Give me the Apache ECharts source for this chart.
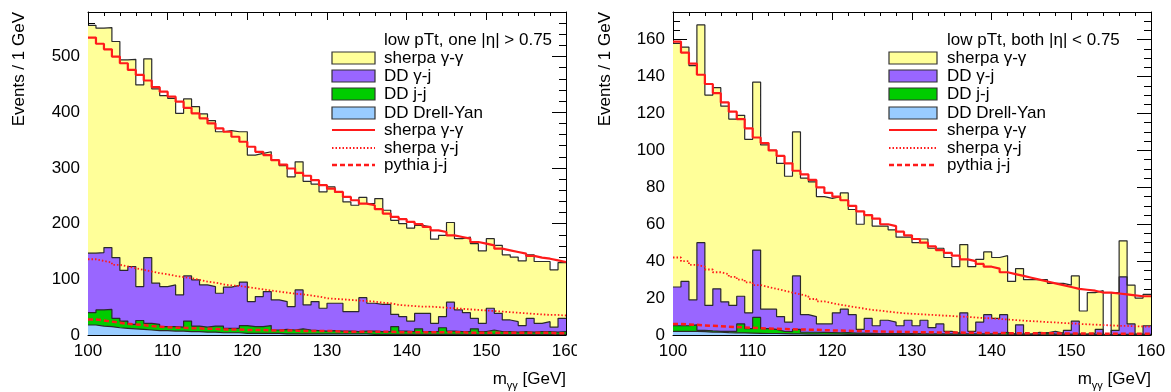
<!DOCTYPE html>
<html><head><meta charset="utf-8">
<script src="https://cdn.jsdelivr.net/npm/echarts@6/dist/echarts.min.js"></script>
<style>html,body{margin:0;padding:0;background:#fff}#c{width:1171px;height:392px}</style>
</head><body><div id="c"></div>
<script>
// ---------- bins (m_gg low edges, GeV) ----------
const massLowEdges = [100,101,102,103,104,105,106,107,108,109,110,111,112,113,114,115,116,117,118,119,
  120,121,122,123,124,125,126,127,128,129,130,131,132,133,134,135,136,137,138,139,
  140,141,142,143,144,145,146,147,148,149,150,151,152,153,154,155,156,157,158,159];
const massHighEdge = 160;
const xTicks = [100,110,120,130,140,150,160];

// ---------- left panel: low pTt, one |eta| > 0.75 ----------
const leftDrellYan = [18,16,15,13,12,11,10,9,8,8, 7,7,6,6,5,5,4,4,4,3, 3,3,3,3,2,2,2,2,2,2,
  2,2,2,2,2,1,1,1,1,1, 1,1,1,1,1,1,1,1,1,1, 1,1,1,1,1,1,1,1,1,1];
const leftJetJet = [22,29,31,17,13,8,16,12,11,7, 8,7,19,10,9,11,12,8,8,14, 12,12,14,6,8,7,9,7,6,5,
  6,5,5,4,5,6,5,5,14,6, 5,10,5,5,12,6,5,5,10,5, 8,5,5,4,5,4,5,5,4,5];
const leftGammaJet = [107,103,111,109,91,104,61,118,74,72, 75,58,81,83,76,71,59,74,77,78, 45,54,61,54,50,42,70,45,52,41,
  49,50,35,36,60,50,49,49,22,26, 19,28,33,15,20,52,39,34,19,15, 39,33,21,19,11,25,15,18,9,24];
const leftGammaGamma = [409,403,395,388,378,372,362,357,349,343, 335,326,318,311,307,298,290,281,276,270,
  263,257,251,251,244,233,230,222,211,209, 209,199,197,191,180,179,190,169,169,167,
  167,158,155,151,146,143,128,136,134,130, 125,122,117,116,116,114,111,108,103,100];
const leftSherpaGG = [534,523,513,500,488,476,467,457,445,437, 428,419,408,398,389,380,371,365,356,347,
  338,329,323,314,306,299,291,286,278,269, 263,257,248,242,236,233,226,218,212,208,
  203,199,194,188,185,179,176,173,167,164, 161,155,152,149,146,142,139,137,134,131];
const leftSherpaGJ = [136,133,130,126,123,120,117,114,111,109, 106,104,102,99,96,94,91,89,88,86,
  84,82,80,78,76,74,73,71,69,66, 65,64,63,62,61,60,58,57,54,53, 52,51,51,50,49,48,47,46,45,44,
  43,42,41,40,39,38,37,36,36,35];
const leftPythiaJJ = [28,26,24,22,20,19,18,16,15,14, 13,13,12,12,11,11,10,10,10,9, 9,9,8,8,8,8,7,7,7,7,
  7,6,6,6,6,6,6,6,5,5, 5,5,5,5,5,5,5,4,4,4, 4,4,4,4,4,4,4,4,3,3];
const leftYTicks = [0,100,200,300,400,500];

// ---------- right panel: low pTt, both |eta| < 0.75 ----------
const rightDrellYan = [2,2,2,1.8,1.6,1.5,1.3,1.2,1.1,1, 0.9,0.8,0.8,0.7,0.6,0.6,0.5,0.5,0.4,0.4,
  0.4,0.3,0.3,0.3,0.3,0.2,0.2,0.2,0.2,0.2, 0.1,0.1,0.1,0.1,0.1,0.1,0.1,0.1,0.1,0.1,
  0.1,0.1,0.1,0.1,0.1,0.1,0.1,0.1,0.1,0.1, 0.1,0.1,0.1,0.1,0,0.1,0.1,0.1,0.1,0.1];
const rightJetJet = [3,3,3.5,0.7,0.6,0.5,0.7,0.8,4.9,2.5, 8.6,2.7,2.2,1.3,1.2,2.4,1,1,1,0.9,
  0.8,1,0.7,0.7,0.6,0.6,0.6,0.6,0.5,0.5, 0.6,0.5,0.5,0.5,0.5,0.5,0.5,0.5,0.5,0.5,
  0.5,1.4,0.4,0.4,0.4,0.4,1.1,0.4,0.4,0.4, 0.4,0.3,0.3,0.3,0,0.3,0.3,0.3,0.3,0.3];
const rightGammaJet = [21,24,13.5,47.5,13.8,23,16,14,15,8.5, 36.5,10.5,11,8,5.2,29,9.5,8.5,4.6,4.7,
  10.8,12.7,10,2,8.1,4.2,7.2,6.2,4.3,7.3, 4.3,7.4,3.4,5.4,1.4,0.4,11.4,1.4,6.4,10.4,
  8.4,9.5,0,5,0,1,0,1.5,0.5,2, 7,0.1,0.6,2.6,0,2.1,31.1,5.6,0.1,4.6];
const rightGammaGamma = [132,127,127,118,114,109,106,101,98,94, 91,89,86,83,79,78,74,73,69,68,
  63,63,57,57,56,54,51,50,48,45, 45,44,43,41,40,36,37,35,34,34,
  33,32,28.5,30.5,29.5,28.5,28.8,26,27,24.5, 24.5,12.5,22,21,0,20.5,19.5,21,19.5,17];
const rightSherpaGG = [159,153,147,141,136,131,126,121,117,112, 107,104,100,97,93,89,87,84,80,77,
  75,73,70,67,65,63,60,59,56,54, 52,50,48,46,44.5,43,41,40,38.5,37,
  36,34,33,32,31,30,29,28,27,26, 25,24.5,24,23,23,22.5,22,21.5,21,21];
const rightSherpaGJ = [42,40,38,37,35.5,34,33,31.5,30,28.5, 27,26,25,24,23,22,21,19.5,18.2,17.3,
  16.4,15.7,15,14.3,13.6,13.2,12.7,12.2,11.8,11.5, 11.3,11,10.8,10.5,10.3,10,9.8,9.5,9.2,9,
  8.7,8.4,8.1,7.8,7.5,7.3,7,6.8,6.5,6.3, 6,5.8,5.6,5.4,5.2,5,4.9,4.7,4.6,4.5];
const rightPythiaJJ = [6,5.7,5.5,5.2,5,4.8,4.5,4.3,4.1,3.9, 3.7,3.5,3.4,3.2,3.1,3,2.9,2.8,2.6,2.5,
  2.4,2.3,2.2,2.1,2,1.9,1.8,1.7,1.7,1.6, 1.5,1.5,1.4,1.4,1.3,1.3,1.2,1.2,1.1,1.1,
  1.1,1,1,1,0.9,0.9,0.9,0.9,0.8,0.8, 0.8,0.8,0.8,0.7,0.7,0.7,0.7,0.7,0.7,0.6];
const rightYTicks = [0,20,40,60,80,100,120,140,160];

const panelTitles = ['low pTt, one |\u03b7| > 0.75', 'low pTt, both |\u03b7| < 0.75'];
const legendLabels = ['sherpa \u03b3-\u03b3', 'DD \u03b3-j', 'DD j-j', 'DD Drell-Yan',
  'sherpa \u03b3-\u03b3', 'sherpa \u03b3-j', 'pythia j-j'];
const yTitle = 'Events / 1 GeV';

// ---------- styling ----------
const FONT = '"Liberation Sans", Arial, Helvetica, sans-serif';
const C_YEL = '#ffff99', C_PUR = '#9966ff', C_GRN = '#00cc00', C_BLU = '#99ccff', C_RED = '#ff1a1a';
const OUTLINE = '#2a2a2a';

function sumArr(...arrs) { return arrs[0].map((_, i) => arrs.reduce((s, a) => s + a[i], 0)); }
function stepData(vals) {
  const d = massLowEdges.map((x, i) => [x, vals[i]]);
  d.push([massHighEdge, vals[vals.length - 1]]);
  return d;
}

const panels = [
  { dy: leftDrellYan, jj: leftJetJet, gj: leftGammaJet, gg: leftGammaGamma,
    sGG: leftSherpaGG, sGJ: leftSherpaGJ, pJJ: leftPythiaJJ,
    ymax: 580, major: 100, minor: 20, ticks: leftYTicks,
    gridLeft: 88, swX: 332, swW: 43, txtX: 384, yTitleX: 19 },
  { dy: rightDrellYan, jj: rightJetJet, gj: rightGammaJet, gg: rightGammaGamma,
    sGG: rightSherpaGG, sGJ: rightSherpaGJ, pJJ: rightPythiaJJ,
    ymax: 175, major: 20, minor: 5, ticks: rightYTicks,
    gridLeft: 673, swX: 889, swW: 48, txtX: 947, yTitleX: 605 }
];
const GRID_TOP = 12, GRID_W = 478, GRID_H = 323;

const grids = [], xAxes = [], yAxes = [], series = [], graphics = [];
const axisLineBase = { show: true, onZero: false, lineStyle: { color: '#000', width: 1 } };

panels.forEach((p, g) => {
  grids.push({ left: p.gridLeft, top: GRID_TOP, width: GRID_W, height: GRID_H, containLabel: false });
  ['bottom', 'top'].forEach((pos) => {
    xAxes.push({
      gridIndex: g, type: 'value', min: 100, max: 160, interval: 10, position: pos,
      axisLine: axisLineBase,
      axisTick: { show: true, inside: true, length: 8, lineStyle: { color: '#000' } },
      minorTick: { show: true, splitNumber: 5, length: 4, lineStyle: { color: '#000' } },
      axisLabel: { show: pos === 'bottom', color: '#000', fontSize: 17, fontFamily: FONT, margin: 8 },
      splitLine: { show: false }, minorSplitLine: { show: false }
    });
  });
  ['left', 'right'].forEach((pos) => {
    yAxes.push({
      gridIndex: g, type: 'value', min: 0, max: p.ymax, interval: p.major, position: pos,
      axisLine: axisLineBase,
      axisTick: { show: true, inside: true, length: 14, lineStyle: { color: '#000' } },
      axisLabel: { show: pos === 'left', showMaxLabel: false, color: '#000', fontSize: 17, fontFamily: FONT, margin: 8 },
      splitLine: { show: false }
    });
    yAxes.push({
      gridIndex: g, type: 'value', min: 0, max: p.ymax, interval: p.minor, position: pos,
      axisLine: { show: false, onZero: false },
      axisTick: { show: true, inside: true, length: 7, lineStyle: { color: '#000' } },
      axisLabel: { show: false }, splitLine: { show: false }
    });
  });

  const xi = g * 2, yi = g * 4;
  const layers = [
    { name: 'sherpa \u03b3-\u03b3', v: sumArr(p.gg, p.gj, p.jj, p.dy), c: C_YEL },
    { name: 'DD \u03b3-j', v: sumArr(p.gj, p.jj, p.dy), c: C_PUR },
    { name: 'DD j-j', v: sumArr(p.jj, p.dy), c: C_GRN },
    { name: 'DD Drell-Yan', v: p.dy, c: C_BLU }
  ];
  layers.forEach((L) => {
    series.push({
      type: 'line', name: L.name, xAxisIndex: xi, yAxisIndex: yi, step: 'end',
      data: stepData(L.v), symbol: 'none', animation: false, silent: true,
      lineStyle: { color: OUTLINE, width: 1.2 },
      areaStyle: { color: L.c, opacity: 1 }
    });
  });
  series.push({ type: 'line', name: 'sherpa \u03b3-\u03b3 (MC)', xAxisIndex: xi, yAxisIndex: yi, step: 'end',
    data: stepData(p.sGG), symbol: 'none', animation: false, silent: true,
    lineStyle: { color: C_RED, width: 2.2 } });
  series.push({ type: 'line', name: 'sherpa \u03b3-j', xAxisIndex: xi, yAxisIndex: yi, step: 'end',
    data: stepData(p.sGJ), symbol: 'none', animation: false, silent: true,
    lineStyle: { color: C_RED, width: 1.8, type: [1.5, 2] } });
  series.push({ type: 'line', name: 'pythia j-j', xAxisIndex: xi, yAxisIndex: yi, step: 'end',
    data: stepData(p.pJJ), symbol: 'none', animation: false, silent: true,
    lineStyle: { color: C_RED, width: 2.5, type: [5, 3] } });

  // legend (drawn as graphics)
  const rowsY = [58, 76, 94, 113, 130, 148, 165];
  graphics.push({ type: 'text', x: p.txtX, y: 40, z: 100,
    style: { text: panelTitles[g], font: '17px ' + FONT, fill: '#000', verticalAlign: 'middle', align: 'left' } });
  const fills = [C_YEL, C_PUR, C_GRN, C_BLU];
  legendLabels.forEach((lab, k) => {
    const yy = rowsY[k];
    if (k < 4) {
      graphics.push({ type: 'rect', z: 100, shape: { x: p.swX, y: yy - 6, width: p.swW, height: 12 },
        style: { fill: fills[k], stroke: '#333', lineWidth: 1.2 } });
    } else {
      const dash = k === 4 ? null : (k === 5 ? [1.5, 2] : [5, 3]);
      graphics.push({ type: 'line', z: 100, shape: { x1: p.swX, y1: yy, x2: p.swX + p.swW, y2: yy },
        style: { stroke: C_RED, lineWidth: k === 6 ? 2.5 : 2, lineDash: dash } });
    }
    graphics.push({ type: 'text', x: p.txtX, y: yy, z: 100,
      style: { text: lab, font: '17px ' + FONT, fill: '#000', verticalAlign: 'middle', align: 'left' } });
  });
  // axis titles
  graphics.push({ type: 'text', x: p.yTitleX, y: GRID_TOP, rotation: Math.PI / 2, z: 100,
    style: { text: yTitle, font: '17px ' + FONT, fill: '#000', align: 'right', verticalAlign: 'middle' } });
  graphics.push({ type: 'text', x: p.gridLeft + GRID_W, y: 381, z: 100,
    style: { text: '{m|m}{s|\u03b3\u03b3}{m| [GeV]}', align: 'right', verticalAlign: 'middle',
      rich: { m: { fontSize: 17, fontFamily: FONT, fill: '#000', lineHeight: 20, verticalAlign: 'top' },
              s: { fontSize: 11, fontFamily: FONT, fill: '#000', lineHeight: 20, verticalAlign: 'bottom' } } } });
});

// the left pad clips its last x label
graphics.push({ type: 'rect', z: 200, shape: { x: 577, y: 340, width: 22, height: 26 }, style: { fill: '#fff' } });

const chart = echarts.init(document.getElementById('c'), null, { renderer: 'canvas' });
chart.setOption({
  backgroundColor: '#fff',
  animation: false,
  textStyle: { fontFamily: FONT },
  grid: grids, xAxis: xAxes, yAxis: yAxes, series: series, graphic: graphics
});
</script></body></html>
